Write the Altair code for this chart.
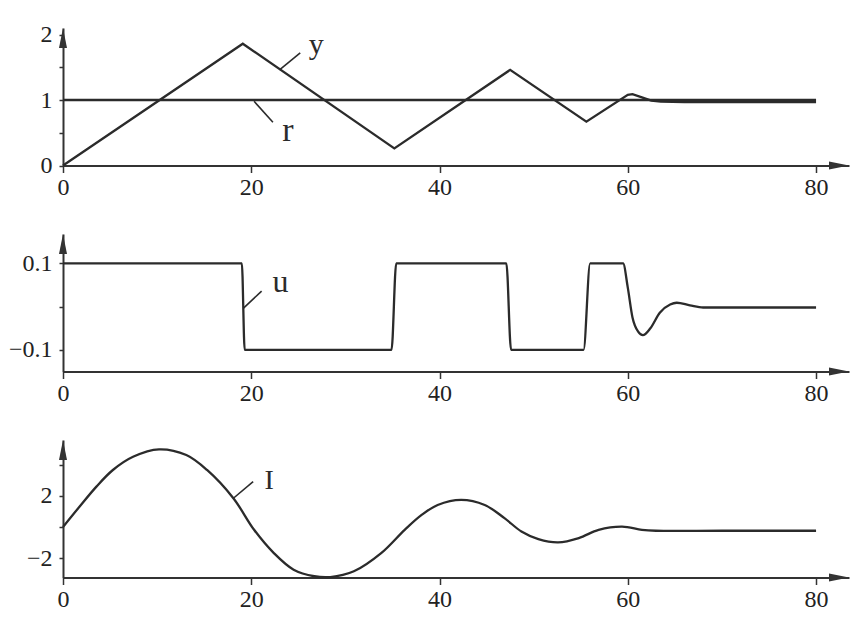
import altair as alt
import pandas as pd

# ---------------- data ----------------
X_MAX = 83.5
x_ticks = [0, 20, 40, 60, 80]

# panel 1: output y and reference r
t_y = [0, 19.1, 35.2, 47.5, 55.6, 60.0, 60.5, 61.5, 62.5, 63.5, 66, 80]
y_vals = [0, 1.86, 0.26, 1.46, 0.67, 1.08, 1.09, 1.04, 0.99, 0.975, 0.97, 0.97]
t_r = [0, 80]
r_vals = [1, 1]

# panel 2: control u
t_u = [0, 19.0, 19.3, 34.9, 35.4, 47.1, 47.6, 55.3, 56.0, 59.5, 60.0, 60.5,
       61.1, 61.6, 62.4, 63.4, 64.5, 65.2, 66.6, 68.0, 80]
u_vals = [0.1, 0.1, -0.1, -0.1, 0.1, 0.1, -0.1, -0.1, 0.1, 0.1, 0.044, -0.025,
          -0.058, -0.066, -0.05, -0.014, 0.005, 0.009, 0.003, -0.002, -0.002]

# panel 3: current I
t_i = [0, 1.77, 3.55, 5.3, 7.44, 10.2, 13.1, 15.3, 18.1, 20.3, 22.4, 24.5,
       26.7, 28.4, 30.9, 33.8, 36.3, 38.1, 39.8, 42.3, 44.8, 46.9, 48.7,
       50.5, 52.6, 54.8, 56.9, 59.4, 61.5, 63.0, 70, 80]
i_vals = [0, 1.32, 2.6, 3.67, 4.52, 5.0, 4.63, 3.67, 1.85, -0.18, -1.68, -2.75,
          -3.17, -3.22, -2.85, -1.68, -0.18, 0.78, 1.42, 1.75, 1.42, 0.57, -0.29,
          -0.78, -0.99, -0.71, -0.18, 0.03, -0.18, -0.24, -0.24, -0.24]

# annotations: label, position, leader line
ann = {
    "y": dict(t=26.9, v=1.70, size=30, lt=23.0, lv=1.46, lt2=25.2, lv2=1.72),
    "r": dict(t=23.9, v=0.38, size=34, lt=20.3, lv=0.98, lt2=22.3, lv2=0.66),
    "u": dict(t=23.1, v=0.035, size=32, lt=19.15, lv=-0.004, lt2=21.1, lv2=0.036),
    "I": dict(t=21.9, v=2.43, size=28, lt=18.1, lv=1.85, lt2=20.2, lv2=2.92),
}

FONT = "Liberation Serif"
INK = "#2b2b2b"
W = 786
H = 137.5


def panel(series, ydom, yticks, hide, yfmt, labels):
    x_enc = alt.X("t:Q", title="",
                  scale=alt.Scale(domain=[0, X_MAX], nice=False, zero=False),
                  axis=alt.Axis(values=x_ticks, title="", grid=False, tickSize=7,
                                labelPadding=3, minExtent=40, maxExtent=40,
                                labelFlush=False))
    expr = " || ".join([f"datum.value == {h}" for h in hide]) if hide else "false"
    y_enc = alt.Y("v:Q", title="",
                  scale=alt.Scale(domain=ydom, nice=False, zero=False),
                  axis=alt.Axis(values=yticks, title="", grid=False, tickSize=4,
                                labelPadding=7, format=yfmt,
                                labelExpr=f"({expr}) ? '' : datum.label",
                                minExtent=52, maxExtent=52, labelFlush=False))
    layers = []
    for name, (ts, vs, interp) in series.items():
        df = pd.DataFrame({"t": ts, "v": vs, "s": name})
        layers.append(alt.Chart(df).mark_line(color=INK, strokeWidth=2.3,
                                              interpolate=interp)
                      .encode(x=x_enc, y=y_enc))
    for lab in labels:
        a = ann[lab]
        dl = pd.DataFrame({"t": [a["lt"]], "v": [a["lv"]],
                           "t2": [a["lt2"]], "v2": [a["lv2"]]})
        layers.append(alt.Chart(dl).mark_rule(color=INK, strokeWidth=1.6)
                      .encode(x=x_enc, y=y_enc, x2="t2:Q", y2="v2:Q"))
        dt = pd.DataFrame({"t": [a["t"]], "v": [a["v"]], "txt": [lab]})
        layers.append(alt.Chart(dt).mark_text(font=FONT, fontSize=a["size"],
                                              color=INK, baseline="alphabetic",
                                              align="center")
                      .encode(x=x_enc, y=y_enc, text="txt:N"))
    up = pd.DataFrame({"t": [0], "v": [ydom[1]]})
    right = pd.DataFrame({"t": [X_MAX], "v": [ydom[0]]})
    layers.append(alt.Chart(up).mark_point(shape="M0,0 L0.4,2 L-0.4,2 Z",
                                           filled=True, size=400, opacity=1,
                                           color="#333")
                  .encode(x=x_enc, y=y_enc))
    layers.append(alt.Chart(right).mark_point(shape="M0,0 L-2,-0.4 L-2,0.4 Z",
                                              filled=True, size=400, opacity=1,
                                              color="#333")
                  .encode(x=x_enc, y=y_enc))
    return alt.layer(*layers).properties(width=W, height=H)


p1 = panel({"y": (t_y, y_vals, "linear"), "r": (t_r, r_vals, "linear")},
           [0, 2.1], [0, 0.5, 1, 1.5, 2], [0.5, 1.5], "", ["y", "r"])
p2 = panel({"u": (t_u, u_vals, "monotone")},
           [-0.15, 0.168], [-0.1, 0, 0.1], [0], ".1f", ["u"])
p3 = panel({"I": (t_i, i_vals, "catmull-rom")},
           [-3.25, 5.6], [-2, 0, 2, 4], [0, 4], "", ["I"])

chart = (alt.vconcat(p1, p2, p3, spacing=28)
         .properties(padding={"left": 0, "top": 14, "right": 5, "bottom": 0},
                     background="white")
         .configure_axis(labelFont=FONT, labelFontSize=24, labelColor="#222",
                         domainColor="#333", domainWidth=2, tickColor="#333",
                         tickWidth=1.5, grid=False)
         .configure_view(strokeWidth=0))

chart.save("out.html", embed_options={"renderer": "svg", "actions": False})
